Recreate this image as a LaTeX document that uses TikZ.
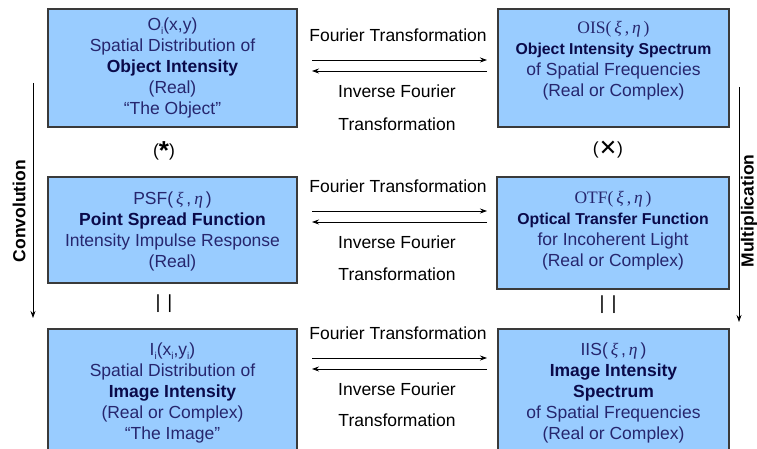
\documentclass[tikz,border=0pt]{standalone}
\usepackage{fontspec}
\setmainfont{Liberation Sans}
\newfontfamily\tms{Liberation Serif}
\newfontfamily\djv{DejaVu Sans}
\usetikzlibrary{arrows.meta}
\definecolor{boxfill}{HTML}{99CCFF}
\definecolor{boxline}{HTML}{3A3A3A}
\definecolor{navy}{HTML}{26266E}
\definecolor{dnavy}{HTML}{0A0A4A}
\newcommand\sbs[1]{\raisebox{-0.4ex}{\fontsize{10}{10}\selectfont #1}}
\newcommand\gk[1]{{\tms\itshape #1}}
\newcommand\bl[1]{{\bfseries\color{dnavy}#1}}
\newcommand\smb[1]{{\fontsize{15.8}{20}\selectfont\bfseries\color{dnavy}#1}}
\begin{document}
\begin{tikzpicture}[x=1pt,y=-1pt,
  panel/.style={draw=boxline, line width=1.2pt, fill=boxfill, inner sep=0pt},
  ptext/.style={align=center, text=navy, font=\fontsize{17.5}{21}\selectfont, inner sep=0pt},
  lbl/.style={font=\fontsize{17.5}{21}\selectfont, inner sep=0pt},
  arr/.style={-{Stealth[length=7pt,width=5pt]}, line width=0.8pt},
  side/.style={font=\bfseries\fontsize{17.5}{17.5}\selectfont, inner sep=0pt, rotate=90}]
\clip (0,0) rectangle (757,449);
\fill[white] (0,0) rectangle (757,449);

% panels
\node[panel, minimum width=249pt, minimum height=118pt] (b1) at (172.5,68) {};
\node[panel, minimum width=231pt, minimum height=118pt] (b2) at (613.5,68) {};
\node[panel, minimum width=249pt, minimum height=106pt] (b3) at (172.5,230) {};
\node[panel, minimum width=232pt, minimum height=112pt] (b4) at (613,233) {};
\node[panel, minimum width=249pt, minimum height=141pt] (b5) at (172.5,399.5) {};
\node[panel, minimum width=231pt, minimum height=141pt] (b6) at (613.5,399.5) {};

% panel texts
\node[ptext] (t1) at (172.5,68) {O\sbs{i}(x,y)\\Spatial Distribution of\\\bl{Object Intensity}\\(Real)\\``The Object''};
\node[ptext] (t2) at (613.5,61) {{\tms OIS(\,\gk{ξ}\,,\,\gk{η}\,)}\\\smb{Object Intensity Spectrum}\\of Spatial Frequencies\\(Real or Complex)};
\node[ptext] (t3) at (172.5,231) {PSF(\,\gk{ξ}\,,\,\gk{η}\,)\\\bl{Point Spread Function}\\Intensity Impulse Response\\(Real)};
\node[ptext] (t4) at (613,231) {{\tms OTF(\,\gk{ξ}\,,\,\gk{η}\,)}\\\smb{Optical Transfer Function}\\for Incoherent Light\\(Real or Complex)};
\node[ptext] (t5) at (172.5,393) {I\sbs{i}(x\sbs{i},y\sbs{i})\\Spatial Distribution of\\\bl{Image Intensity}\\(Real or Complex)\\``The Image''};
\node[ptext] (t6) at (613.5,393) {IIS(\,\gk{ξ}\,,\,\gk{η}\,)\\\bl{Image Intensity}\\\bl{Spectrum}\\of Spatial Frequencies\\(Real or Complex)};

% horizontal labels
\node[lbl] (f1) at (398,35) {Fourier Transformation};
\node[lbl] (i1) at (397,91) {Inverse Fourier};
\node[lbl] (j1) at (397,124) {Transformation};
\node[lbl] (f2) at (398,186) {Fourier Transformation};
\node[lbl] (i2) at (397,242) {Inverse Fourier};
\node[lbl] (j2) at (397,274) {Transformation};
\node[lbl] (f3) at (398,333) {Fourier Transformation};
\node[lbl] (i3) at (397,389) {Inverse Fourier};
\node[lbl] (j3) at (397,420) {Transformation};

% horizontal arrows
\coordinate (p1l) at (312,60);  \coordinate (p1r) at (487,60);
\coordinate (q1l) at (312,71);  \coordinate (q1r) at (487,71);
\coordinate (p2l) at (312,211); \coordinate (p2r) at (487,211);
\coordinate (q2l) at (312,222); \coordinate (q2r) at (487,222);
\coordinate (p3l) at (312,358); \coordinate (p3r) at (487,358);
\coordinate (q3l) at (312,369); \coordinate (q3r) at (487,369);
\draw[arr] (p1l) -- (p1r);
\draw[arr] (q1r) -- (q1l);
\draw[arr] (p2l) -- (p2r);
\draw[arr] (q2r) -- (q2l);
\draw[arr] (p3l) -- (p3r);
\draw[arr] (q3r) -- (q3l);

% operators
\node[lbl] (conv) at (164,151) {(\raisebox{-0.4ex}{\bfseries\fontsize{26}{26}\selectfont *})};
\node[lbl] (mult) at (608,150) {(\raisebox{-0.1ex}{\djv\fontsize{22}{22}\selectfont ✕})};
\node[lbl, font=\fontsize{19}{19}\selectfont] (eq1) at (164,304) {|\hspace{7pt}|};
\node[lbl, font=\fontsize{19}{19}\selectfont] (eq2) at (608,305) {|\hspace{7pt}|};

% vertical arrows
\coordinate (cv1) at (33,83);  \coordinate (cv2) at (33,318);
\coordinate (mv1) at (739,87); \coordinate (mv2) at (739,322);
\draw[arr] (cv1) -- (cv2);
\draw[arr] (mv1) -- (mv2);
\node[side] (convl) at (19,211) {Convolution};
\node[side] (multl) at (749,211) {Multiplication};
\end{tikzpicture}
\end{document}
